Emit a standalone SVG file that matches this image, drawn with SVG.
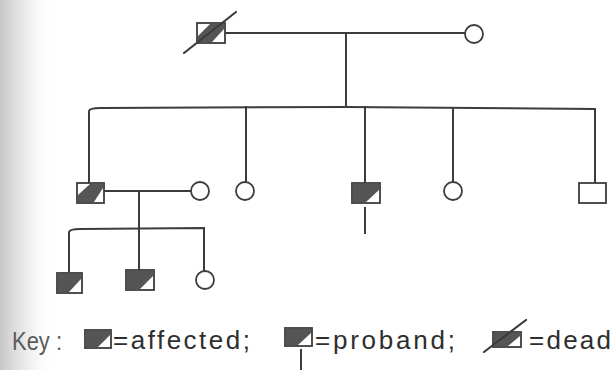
<svg xmlns="http://www.w3.org/2000/svg" width="613" height="370" viewBox="0 0 613 370">
  <defs>
    <linearGradient id="scan" x1="0" y1="0" x2="1" y2="0">
      <stop offset="0" stop-color="#bdbdbd" stop-opacity="0.85"/>
      <stop offset="0.5" stop-color="#d6d6d6" stop-opacity="0.45"/>
      <stop offset="1" stop-color="#ffffff" stop-opacity="0"/>
    </linearGradient>
  </defs>
  <style>
    .ln { stroke:#3c3c3c; stroke-width:2; fill:none; stroke-linecap:square; }
    .sym { fill:#ffffff; stroke:#3c3c3c; stroke-width:1.8; }
    .shade { fill:#555555; stroke:none; }
    .slash { stroke:#3c3c3c; stroke-width:2.2; stroke-linecap:round; }
    .txt { font-family:"Liberation Sans", Arial, sans-serif; font-size:26px; fill:#2e2e2e; }
    .key { fill:#5a5a5a; }
  </style>
  <rect x="0" y="0" width="613" height="370" fill="#ffffff"/>
  <rect x="0" y="0" width="55" height="370" fill="url(#scan)"/>

  <g id="connectors">
    <!-- generation I mating and descent -->
    <line class="ln" x1="225" y1="33" x2="465" y2="33"/>
    <line class="ln" x1="346" y1="33" x2="346" y2="107"/>
    <!-- generation II sibship -->
    <path class="ln" d="M89,183 V111 Q90,108 100,108 L346,107 L595,109 V182"/>
    <line class="ln" x1="246" y1="107" x2="246" y2="182"/>
    <line class="ln" x1="365" y1="107" x2="365" y2="183"/>
    <line class="ln" x1="453" y1="108" x2="453" y2="182"/>
    <!-- proband marker -->
    <line class="ln" x1="365" y1="208" x2="365" y2="233"/>
    <!-- II-1 mating and descent -->
    <line class="ln" x1="104" y1="191" x2="191" y2="191"/>
    <line class="ln" x1="139" y1="191" x2="139" y2="228"/>
    <!-- generation III sibship -->
    <path class="ln" d="M69,273 V232 Q70,229 80,229 L204,228 V271"/>
    <line class="ln" x1="139" y1="228" x2="139" y2="270"/>
  </g>

  <g id="I-1">
    <rect class="sym" x="197" y="23" width="28" height="20"/>
    <polygon class="shade" points="198,36 210,24 224,24 224,29 212,42 198,42"/>
    <line class="slash" x1="184" y1="53" x2="236" y2="12"/>
  </g>
  <g id="I-2">
    <circle class="sym" cx="474" cy="34" r="9"/>
  </g>

  <g id="II-1">
    <rect class="sym" x="77" y="183" width="27" height="20"/>
    <polygon class="shade" points="78,195 90,184 103,184 103,188 94,202 78,202"/>
  </g>
  <g id="II-1-spouse">
    <circle class="sym" cx="200" cy="191" r="9"/>
  </g>
  <g id="II-2">
    <circle class="sym" cx="245" cy="191" r="9"/>
  </g>
  <g id="II-3-proband">
    <rect class="sym" x="352" y="183" width="28" height="20"/>
    <polygon class="shade" points="353,184 379,184 379,190 366,202 353,202"/>
  </g>
  <g id="II-4">
    <circle class="sym" cx="453" cy="191" r="9"/>
  </g>
  <g id="II-5">
    <rect class="sym" x="579" y="183" width="27" height="20"/>
  </g>

  <g id="III-1">
    <rect class="sym" x="57" y="273" width="25" height="20"/>
    <polygon class="shade" points="58,274 81,274 81,279 69,292 58,292"/>
  </g>
  <g id="III-2">
    <rect class="sym" x="126" y="270" width="28" height="20"/>
    <polygon class="shade" points="127,271 153,271 153,276 140,289 127,289"/>
  </g>
  <g id="III-3">
    <circle class="sym" cx="205" cy="280" r="9"/>
  </g>

  <g id="key">
    <text class="txt key" x="12" y="350" textLength="50" lengthAdjust="spacingAndGlyphs">Key :</text>
    <g id="key-affected">
      <rect class="sym" x="85" y="330" width="26" height="18" stroke-width="1.4"/>
      <polygon class="shade" points="86,331 110,331 110,335 98,347 86,347"/>
    </g>
    <text class="txt" x="113" y="349" textLength="137" lengthAdjust="spacing">=affected;</text>
    <g id="key-proband">
      <rect class="sym" x="285" y="328" width="27" height="18" stroke-width="1.4"/>
      <polygon class="shade" points="286,329 311,329 311,333 298,345 286,345"/>
      <line class="ln" x1="301" y1="350" x2="301" y2="369"/>
    </g>
    <text class="txt" x="315" y="349" textLength="140" lengthAdjust="spacing">=proband;</text>
    <g id="key-dead">
      <rect class="sym" x="493" y="332" width="28" height="15" stroke-width="1.4"/>
      <polygon class="shade" points="494,333 520,333 520,336 508,346 494,346"/>
      <line class="slash" x1="484" y1="352" x2="526" y2="320"/>
    </g>
    <text class="txt" x="529" y="349" textLength="82" lengthAdjust="spacing">=dead</text>
  </g>
</svg>
